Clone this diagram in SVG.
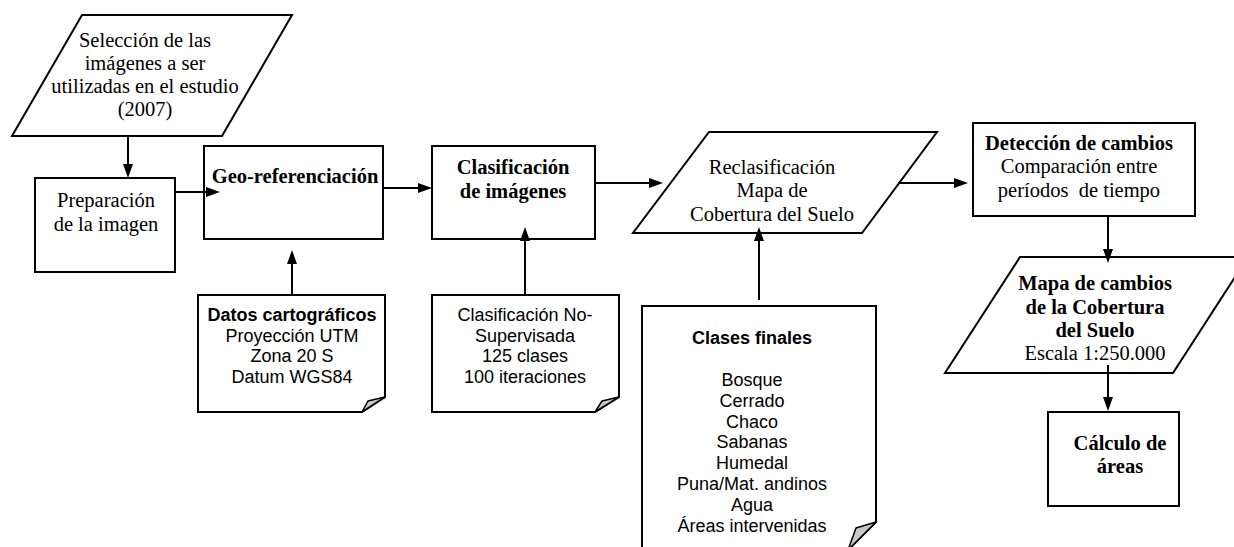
<svg xmlns="http://www.w3.org/2000/svg" width="1234" height="547" viewBox="0 0 1234 547">
<style>
.sh{fill:#fff;stroke:#000;stroke-width:2;stroke-linejoin:miter}
.fold{fill:#c8c8c8;stroke:#000;stroke-width:1.5;stroke-linejoin:round}
.ser{font-family:"Liberation Serif","Times New Roman",serif;font-size:20.5px;text-anchor:middle;fill:#000}
.san{font-family:"Liberation Sans",Arial,sans-serif;font-size:18px;text-anchor:middle;fill:#000}
.b{font-weight:bold}
.con{stroke:#000;stroke-width:2;fill:none;marker-end:url(#ah)}
</style>
<defs>
<marker id="ah" markerUnits="userSpaceOnUse" markerWidth="16" markerHeight="12" refX="4" refY="5" orient="auto">
<path d="M0,0 L14,5 L0,10 Z" fill="#000"/>
</marker>
</defs>
<rect width="1234" height="547" fill="#fff"/>

<g id="seleccion">
<polygon class="sh" points="82,15 292,15 222,136 12,136"/>
<text class="ser" x="145" y="46.5">Selección de las</text>
<text class="ser" x="145" y="69.5">imágenes a ser</text>
<text class="ser" x="145" y="92.5">utilizadas en el estudio</text>
<text class="ser" x="145" y="115.5">(2007)</text>
</g>

<g id="preparacion">
<rect class="sh" x="35" y="178" width="140" height="94"/>
<text class="ser" x="106" y="207">Preparación</text>
<text class="ser" x="106" y="231">de la imagen</text>
</g>

<g id="georef">
<rect class="sh" x="204" y="146" width="179" height="93"/>
<text class="ser b" x="295" y="183">Geo-referenciación</text>
</g>

<g id="datos">
<path class="sh" d="M198,295 H385 V397 L362,412 H198 Z"/>
<path class="fold" d="M362,412 L368,401 L385,397 Z"/>
<text class="san b" x="292" y="321">Datos cartográficos</text>
<text class="san" x="292" y="342">Proyección UTM</text>
<text class="san" x="292" y="362">Zona 20 S</text>
<text class="san" x="292" y="383">Datum WGS84</text>
</g>

<g id="clasificacion">
<rect class="sh" x="432" y="146" width="163" height="93"/>
<text class="ser b" x="513" y="174">Clasificación</text>
<text class="ser b" x="513" y="198">de imágenes</text>
</g>

<g id="nosupervisada">
<path class="sh" d="M432,295 H619 V397 L595,412 H432 Z"/>
<path class="fold" d="M595,412 L602,401 L619,397 Z"/>
<text class="san" x="525" y="321">Clasificación No-</text>
<text class="san" x="525" y="342">Supervisada</text>
<text class="san" x="525" y="362">125 clases</text>
<text class="san" x="525" y="383">100 iteraciones</text>
</g>

<g id="reclasificacion">
<polygon class="sh" points="709,132 937,132 862,233 633,233"/>
<text class="ser" x="772" y="174">Reclasificación</text>
<text class="ser" x="772" y="197">Mapa de</text>
<text class="ser" x="772" y="221">Cobertura del Suelo</text>
</g>

<g id="clases">
<path class="sh" d="M642,306 H876 V522 L848,550 H642 Z"/>
<path class="fold" d="M848,550 L856,528 L876,522 Z"/>
<text class="san b" x="752" y="344">Clases finales</text>
<text class="san" x="752" y="386">Bosque</text>
<text class="san" x="752" y="406.8">Cerrado</text>
<text class="san" x="752" y="427.6">Chaco</text>
<text class="san" x="752" y="448.4">Sabanas</text>
<text class="san" x="752" y="469.2">Humedal</text>
<text class="san" x="752" y="490">Puna/Mat. andinos</text>
<text class="san" x="752" y="510.8">Agua</text>
<text class="san" x="752" y="531.6">Áreas intervenidas</text>
</g>

<g id="deteccion">
<rect class="sh" x="973" y="123" width="222" height="93"/>
<text class="ser b" x="1079" y="150">Detección de cambios</text>
<text class="ser" x="1079" y="173">Comparación entre</text>
<text class="ser" x="1079" y="197" xml:space="preserve">períodos  de tiempo</text>
</g>

<g id="mapacambios">
<polygon class="sh" points="1020,257 1248,257 1173,373 945,373"/>
<text class="ser b" x="1095" y="290">Mapa de cambios</text>
<text class="ser b" x="1095" y="314">de la Cobertura</text>
<text class="ser b" x="1095" y="337">del Suelo</text>
<text class="ser" x="1095" y="360">Escala 1:250.000</text>
</g>

<g id="calculo">
<rect class="sh" x="1048" y="412" width="131" height="94"/>
<text class="ser b" x="1120" y="450">Cálculo de</text>
<text class="ser b" x="1120" y="473">áreas</text>
</g>

<g id="connectors">
<line class="con" x1="128" y1="136" x2="128" y2="168"/>
<line class="con" x1="175" y1="192" x2="210" y2="192"/>
<line class="con" x1="292" y1="295" x2="292" y2="260"/>
<line class="con" x1="383" y1="188" x2="422" y2="188"/>
<line class="con" x1="525" y1="294" x2="525" y2="237"/>
<line class="con" x1="595" y1="183" x2="653" y2="183"/>
<line class="con" x1="759" y1="300" x2="759" y2="237"/>
<line class="con" x1="898" y1="183" x2="958" y2="183"/>
<line class="con" x1="1108" y1="216" x2="1108" y2="253"/>
<line class="con" x1="1108" y1="365" x2="1108" y2="401"/>
</g>
</svg>
